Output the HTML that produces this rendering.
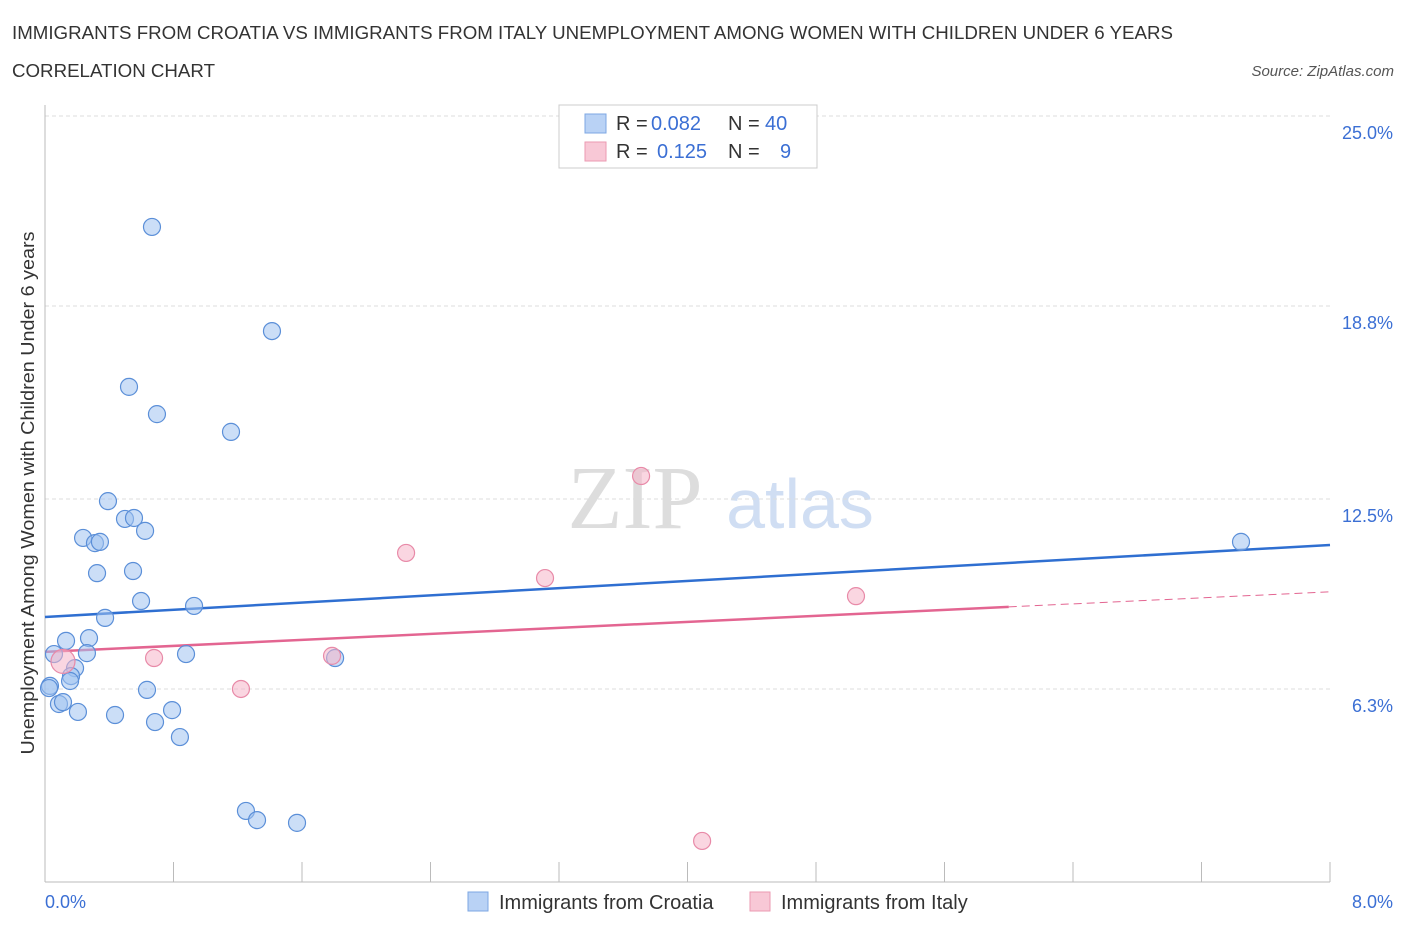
<!DOCTYPE html>
<html><head><meta charset="utf-8"><style>
body{margin:0;background:#fff;font-family:"Liberation Sans",sans-serif;}
</style></head><body>
<svg width="1406" height="930" xmlns="http://www.w3.org/2000/svg">
<text x="12" y="39" font-size="18" fill="#333" textLength="1161" lengthAdjust="spacingAndGlyphs">IMMIGRANTS FROM CROATIA VS IMMIGRANTS FROM ITALY UNEMPLOYMENT AMONG WOMEN WITH CHILDREN UNDER 6 YEARS</text>
<text x="12" y="77" font-size="18" fill="#333" textLength="203" lengthAdjust="spacingAndGlyphs">CORRELATION CHART</text>
<text x="1394" y="76" font-size="15" fill="#555" text-anchor="end" font-style="italic">Source: ZipAtlas.com</text>
<text x="635" y="528" font-size="90" fill="#ddd" text-anchor="middle" font-family="Liberation Serif,serif">ZIP</text>
<text x="800" y="528" font-size="70" fill="#d0def3" text-anchor="middle">atlas</text>
<g id="grid"></g><g id="axes"></g><g id="lines"></g><g id="pts"></g>
<text x="34" y="493" font-size="18" fill="#333" text-anchor="middle" textLength="523" lengthAdjust="spacingAndGlyphs" transform="rotate(-90 34 493)">Unemployment Among Women with Children Under 6 years</text>
<text x="45" y="908" font-size="18" fill="#3b6fd4">0.0%</text>
<text x="1393" y="908" font-size="18" fill="#3b6fd4" text-anchor="end">8.0%</text>
<g>
<rect x="559" y="105" width="258" height="63" fill="#fff" stroke="#ccc"/>
<rect x="585" y="114" width="21" height="19" fill="#b9d2f5" stroke="#7da7e3"/>
<rect x="585" y="142" width="21" height="19" fill="#f8c8d6" stroke="#eb9ab2"/>
<text x="616" y="130" font-size="20" fill="#333">R = <tspan x="651" fill="#3b6fd4">0.082</tspan><tspan x="728">N = </tspan><tspan x="765" fill="#3b6fd4">40</tspan></text>
<text x="616" y="158" font-size="20" fill="#333">R = <tspan x="657" fill="#3b6fd4">0.125</tspan><tspan x="728">N = </tspan><tspan x="780" fill="#3b6fd4">9</tspan></text>
</g>
<g>
<rect x="468" y="892" width="20" height="19" fill="#b9d2f5" stroke="#7da7e3"/>
<text x="499" y="909" font-size="20" fill="#333">Immigrants from Croatia</text>
<rect x="750" y="892" width="20" height="19" fill="#f8c8d6" stroke="#eb9ab2"/>
<text x="781" y="909" font-size="20" fill="#333">Immigrants from Italy</text>
</g>
</svg>
<script>
const yTicks=[6.3,12.5,18.8,25.0];
const yTickLabels=["6.3%","12.5%","18.8%","25.0%"];
const croatiaX=[0.666,1.413,0.523,0.697,1.158,0.392,0.498,0.554,0.623,0.237,0.311,0.342,0.324,0.548,0.598,0.928,0.374,0.131,0.274,0.056,0.261,0.878,1.806,0.187,0.162,0.156,0.031,0.635,0.087,0.112,0.205,0.436,0.791,0.685,0.840,1.251,1.320,1.569,7.446,0.025];
const croatiaY=[21.38,17.98,16.16,15.27,14.69,12.43,11.85,11.88,11.46,11.23,11.06,11.10,10.08,10.15,9.17,9.01,8.62,7.87,7.96,7.44,7.47,7.44,7.31,6.98,6.72,6.56,6.40,6.27,5.81,5.87,5.55,5.45,5.61,5.22,4.73,2.32,2.02,1.93,11.10,6.33];
const italyX=[0.112,0.679,1.220,1.787,2.248,3.113,3.711,5.049,4.091];
const italyY=[7.2,7.31,6.30,7.38,10.74,9.92,13.25,9.33,1.34];
const croatiaTrend=[8.65,11.0];
const italyTrend=[7.51,9.47];
const NS="http://www.w3.org/2000/svg";
const X=v=>45+v/8*1285, Y=v=>882-v/25*766;
function mk(t,a,p){const e=document.createElementNS(NS,t);for(const k in a)e.setAttribute(k,a[k]);document.getElementById(p).appendChild(e);return e;}
yTicks.forEach((t,i)=>{
 const g=mk('line',{x1:45,x2:1330,y1:Y(t),y2:Y(t),stroke:'#ddd','stroke-dasharray':'4,3'},'grid');
 
 
 const tx=mk('text',{x:1393,y:Y(t)+23,'font-size':18,fill:'#3b6fd4','text-anchor':'end'},'grid');
 tx.textContent=yTickLabels[i];
 
 
});
const ax=mk('line',{x1:45,x2:1330,y1:882,y2:882,stroke:'#bbb'},'axes');


const ay=mk('line',{x1:45,x2:45,y1:105,y2:882,stroke:'#bbb'},'axes');


for(let i=0;i<=10;i++){const t=mk('line',{x1:X(i*0.8),x2:X(i*0.8),y1:862,y2:882,stroke:'#bbb'},'axes');
 
 }
const bl=mk('line',{x1:X(0),x2:X(8),y1:Y(croatiaTrend[0]),y2:Y(croatiaTrend[1]),stroke:'#2f6fd1','stroke-width':2.5},'lines');


const pm=italyTrend[0]+(italyTrend[1]-italyTrend[0])*6/8;
const pl=mk('line',{x1:X(0),x2:X(6),y1:Y(italyTrend[0]),y2:Y(pm),stroke:'#e36591','stroke-width':2.5},'lines');


const pd=mk('line',{x1:X(6),x2:X(8),y1:Y(pm),y2:Y(italyTrend[1]),stroke:'#e36591','stroke-width':1,'stroke-dasharray':'8,5'},'lines');


croatiaX.forEach((x,i)=>{const c=mk('circle',{cx:X(x),cy:Y(croatiaY[i]),r:8.5,fill:'rgba(160,195,240,0.55)',stroke:'#5b8fd8','stroke-width':1.2},'pts');
 
 });
italyX.forEach((x,i)=>{const c=mk('circle',{cx:X(x),cy:Y(italyY[i]),r:i==0?12:8.5,fill:'rgba(246,180,200,0.55)',stroke:'#e88aa8','stroke-width':1.2},'pts');
 
 });
</script>
</body></html>
